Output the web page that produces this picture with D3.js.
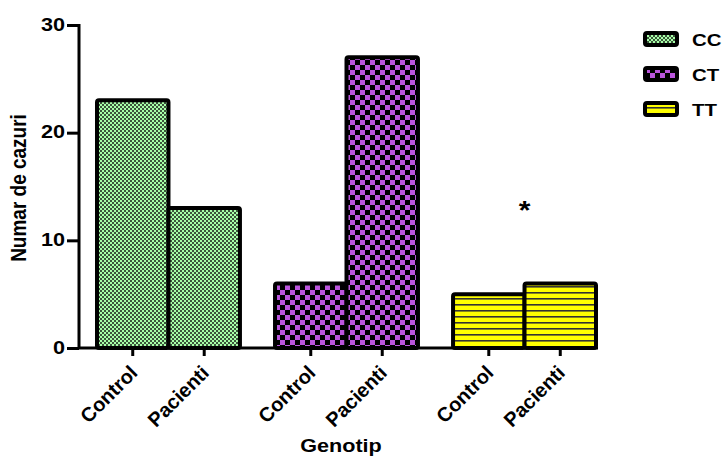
<!DOCTYPE html>
<html>
<head>
<meta charset="utf-8">
<script src="https://cdn.jsdelivr.net/npm/d3@7"></script>
<style>
  body { margin: 0; background: #fff; }
  text { font-family: "Liberation Sans", Arial, sans-serif; font-weight: bold; fill: #000; }
</style>
</head>
<body>
<script>
// genotype groups and subgroups
const genotypes = ["CC", "CT", "TT"];
const groups = ["Control", "Pacienti"];
const controlValues = [23, 6, 5];
const pacientiValues = [13, 27, 6];
const yTicks = [0, 10, 20, 30];
const fills = ["url(#patCC)", "url(#patCT)", "url(#patTT)"];

const width = 725, height = 457;

const svg = d3.select("body").append("svg")
  .attr("width", width)
  .attr("height", height);

// patterns
const defs = svg.append("defs");

let p = defs.append("pattern").attr("id", "patCC")
  .attr("patternUnits", "userSpaceOnUse").attr("width", 4).attr("height", 4);
p.append("rect").attr("width", 4).attr("height", 4).attr("fill", "#3c553c");
p.append("rect").attr("x", 0).attr("y", 0).attr("width", 2).attr("height", 2).attr("fill", "#a8ffa8");
p.append("rect").attr("x", 2).attr("y", 2).attr("width", 2).attr("height", 2).attr("fill", "#a8ffa8");

p = defs.append("pattern").attr("id", "patCT")
  .attr("patternUnits", "userSpaceOnUse").attr("width", 10).attr("height", 10);
p.append("rect").attr("width", 10).attr("height", 10).attr("fill", "#000");
p.append("rect").attr("x", 0).attr("y", 0).attr("width", 5).attr("height", 5).attr("fill", "#bb55dd");
p.append("rect").attr("x", 5).attr("y", 5).attr("width", 5).attr("height", 5).attr("fill", "#bb55dd");

p = defs.append("pattern").attr("id", "patTT")
  .attr("patternUnits", "userSpaceOnUse").attr("width", 6).attr("height", 6);
p.append("rect").attr("width", 6).attr("height", 6).attr("fill", "#ffff00");
p.append("rect").attr("x", 0).attr("y", 4).attr("width", 6).attr("height", 1.6).attr("fill", "#333");

const x0 = d3.scaleBand()
  .domain(genotypes)
  .range([97, 596])
  .paddingInner(0.197)
  .paddingOuter(0);

const x1 = d3.scaleBand()
  .domain(groups)
  .range([0, x0.bandwidth()]);

const y = d3.scaleLinear()
  .domain([0, 30])
  .range([348, 25]);

const data = [];
genotypes.forEach((g, i) => {
  data.push({ g: g, grp: "Control", v: controlValues[i], fill: fills[i] });
  data.push({ g: g, grp: "Pacienti", v: pacientiValues[i], fill: fills[i] });
});

// bars
svg.append("g").selectAll("rect")
  .data(data)
  .enter().append("rect")
  .attr("x", d => x0(d.g) + x1(d.grp))
  .attr("y", d => y(d.v))
  .attr("width", x1.bandwidth())
  .attr("height", d => y(0) - y(d.v))
  .attr("rx", 2)
  .attr("fill", d => d.fill)
  .attr("stroke", "#000")
  .attr("stroke-width", 4);

// y axis
const yAxis = svg.append("g")
  .attr("transform", "translate(79,0)")
  .call(d3.axisLeft(y).tickValues(yTicks).tickSize(12));
yAxis.select(".domain").attr("stroke-width", 3).attr("d", `M0,${y(30) - 1}V${y(0)}`);
yAxis.selectAll(".tick line").attr("stroke-width", 3);
yAxis.selectAll(".tick text")
  .attr("x", 0)
  .attr("dy", "0.28em")
  .attr("transform", "translate(-14,0) scale(1.2,1)")
  .style("font-size", "18px")
  .style("font-weight", "bold")
  .style("font-family", "Liberation Sans, Arial, sans-serif")
  .attr("fill", "#000");

// x axis line
svg.append("line")
  .attr("x1", 78).attr("x2", 598)
  .attr("y1", y(0)).attr("y2", y(0))
  .attr("stroke", "#000").attr("stroke-width", 3);

// x ticks and labels
const xt = svg.append("g").selectAll("g")
  .data(data)
  .enter().append("g")
  .attr("transform", d => `translate(${x0(d.g) + x1(d.grp) + x1.bandwidth() / 2},${y(0)})`);
xt.append("line").attr("y1", 0).attr("y2", 8).attr("stroke", "#000").attr("stroke-width", 3);
xt.append("text")
  .attr("text-anchor", "end")
  .attr("transform", "translate(6,26) rotate(-45)")
  .style("font-size", "20px")
  .text(d => d.grp);

// axis titles
svg.append("text")
  .attr("transform", "translate(26,188) scale(1.2,1) rotate(-90)")
  .attr("text-anchor", "middle")
  .style("font-size", "19px")
  .text("Numar de cazuri");

svg.append("text")
  .attr("transform", "translate(341,452) scale(1.2,1)")
  .attr("text-anchor", "middle")
  .style("font-size", "18px")
  .text("Genotip");

// significance mark
svg.append("text")
  .attr("transform", `translate(${x0("TT") + x1.bandwidth()},219) scale(1.2,1)`)
  .attr("text-anchor", "middle")
  .style("font-size", "25px")
  .text("*");

// legend
const leg = svg.append("g").selectAll("g")
  .data(genotypes)
  .enter().append("g")
  .attr("transform", (d, i) => `translate(645,${33 + i * 35})`);
leg.append("rect")
  .attr("width", 32).attr("height", 12)
  .attr("rx", 2)
  .attr("fill", (d, i) => fills[i])
  .attr("stroke", "#000").attr("stroke-width", 4);
leg.append("text")
  .attr("transform", "translate(47,13) scale(1.2,1)")
  .style("font-size", "17px")
  .text(d => d);
</script>
</body>
</html>
